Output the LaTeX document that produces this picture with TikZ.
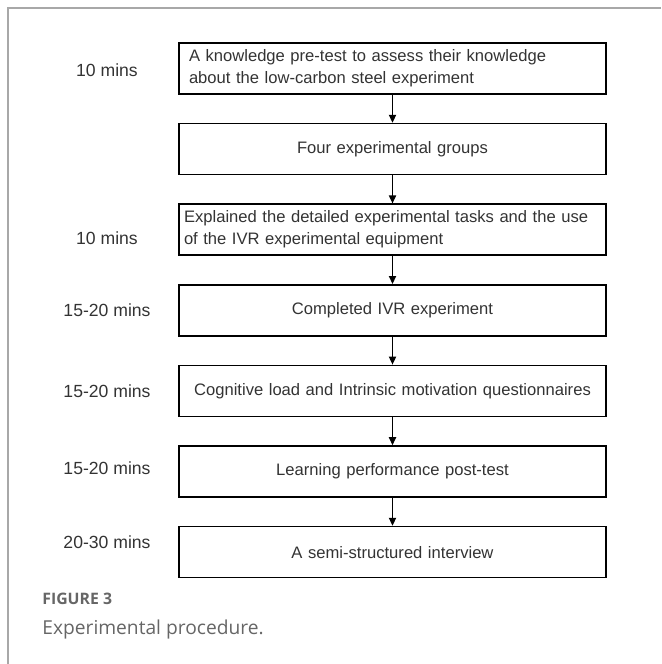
\documentclass[tikz,border=0pt]{standalone}
\usepackage{fontspec}
\setmainfont{Liberation Sans}
\newfontfamily\capfont{Open Sans}
\usetikzlibrary{arrows.meta,positioning}

\definecolor{textgray}{HTML}{333333}
\definecolor{framegray}{HTML}{A8A8A8}
\definecolor{capgray}{HTML}{666666}

\begin{document}
\begin{tikzpicture}[
    x=0.5pt, y=-0.5pt,
    font=\fontsize{8.3}{11}\selectfont,
    node distance=14pt,
    stepbox/.style={draw, line width=0.8pt, minimum width=213.5pt, minimum height=25.5pt, text width=208.5pt, inner xsep=2.5pt, align=center, text=textgray},
    timelabel/.style={font=\fontsize{8.8}{11}\selectfont, text=textgray},
    line/.style={-{Triangle[length=4pt,width=3.6pt]}, line width=0.6pt}
]
    % page area and frame
    \useasboundingbox (0,0) rectangle (661,664);
    \draw[framegray, line width=0.8pt] (661,8) -- (8,8) -- (8,664);

    % steps of the procedure
    \node[stepbox, align=left, text width=203.5pt, inner xsep=5pt] (pretest) at (392.5,68.5) {A knowledge pre-test to assess their knowledge\\about the low-carbon steel experiment};
    \node[stepbox, below=of pretest] (groups) {Four experimental groups};
    \node[stepbox, align=left, below=of groups] (explain) {Explained the detailed experimental tasks and the use\\of the IVR experimental equipment};
    \node[stepbox, below=of explain] (ivr) {Completed IVR experiment};
    \node[stepbox, below=of ivr] (survey) {Cognitive load and Intrinsic motivation questionnaires};
    \node[stepbox, below=of survey] (posttest) {Learning performance post-test};
    \node[stepbox, below=of posttest] (interview) {A semi-structured interview};

    \foreach \a/\b in {pretest/groups, groups/explain, explain/ivr, ivr/survey, survey/posttest, posttest/interview}
        \draw[line] (\a) -- (\b);

    % durations on the left
    \coordinate (tcol) at (107,0);
    \node[timelabel, yshift=-0.75pt] (t1) at (tcol |- pretest) {10 mins};
    \node[timelabel, yshift=-4.5pt] (t3) at (tcol |- explain) {10 mins};
    \node[timelabel] (t4) at (tcol |- ivr) {15-20 mins};
    \node[timelabel] (t5) at (tcol |- survey) {15-20 mins};
    \node[timelabel, yshift=1.5pt] (t6) at (tcol |- posttest) {15-20 mins};
    \node[timelabel, yshift=5pt] (t7) at (tcol |- interview) {20-30 mins};

    % caption
    \node[anchor=base west, inner sep=0pt, text=capgray, font=\capfont\fontsize{7.9}{9}\selectfont\bfseries] (fignum) at (42,604) {FIGURE 3};
    \node[anchor=base west, inner sep=0pt, text=capgray, font=\capfont\fontsize{9.6}{11}\selectfont] (figcap) at (42,634) {Experimental procedure.};
\end{tikzpicture}
\end{document}
